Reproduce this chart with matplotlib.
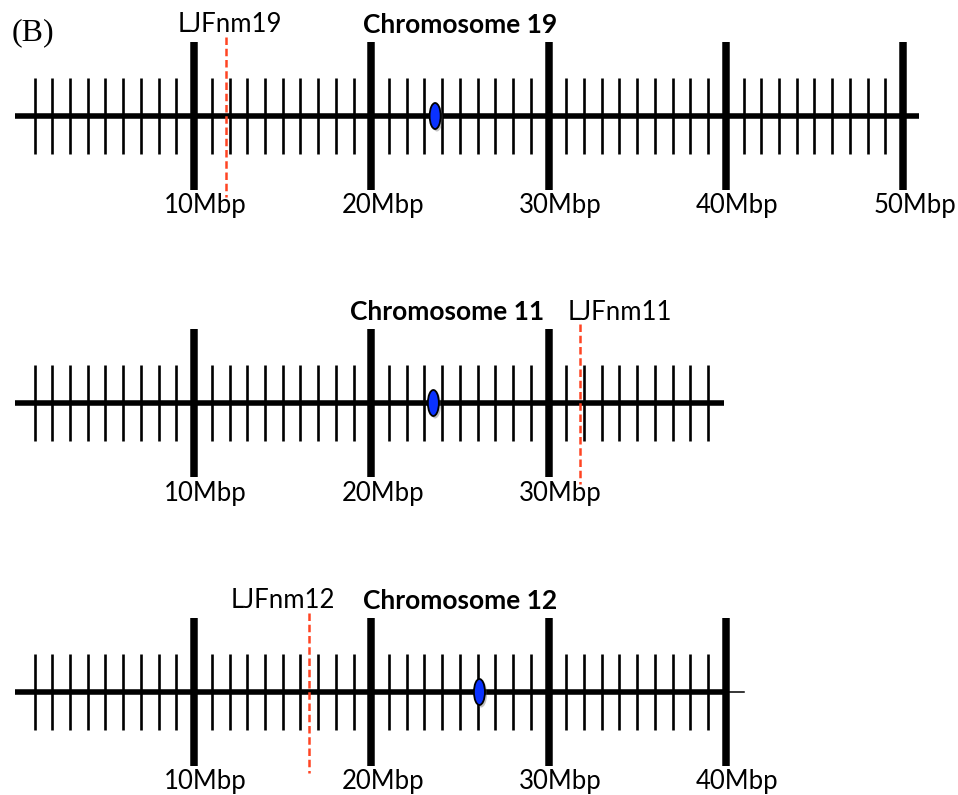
import matplotlib.pyplot as plt
from matplotlib.patches import Ellipse
import numpy as np

# chromosome maps: length, centromere and marker positions in Mbp
chrom_names = ['Chromosome 19', 'Chromosome 11', 'Chromosome 12']
chrom_len = [50.9, 39.9, 40.0]
centromere = [23.6, 23.5, 26.1]
marker_names = ['LJFnm19', 'LJFnm11', 'LJFnm12']
marker_pos = [11.8, 31.8, 16.5]
# chromosome 12 map drawing continues a little past its last tick
tail_end = [None, None, 41.0]

# layout (vertical in pixels, horizontal in Mbp)
row_y = [116, 403, 692]
title_x = [25.0, 24.3, 25.0]
marker_dx = [0.2, 2.2, -1.5]
label_dx = 0.65

font = 'Lato'

fig = plt.figure(figsize=(9.58, 7.95), dpi=100)
ax = fig.add_axes([0, 0, 1, 1])
ax.set_xlim(-0.95, 53.1)
ax.set_ylim(795, 0)
ax.axis('off')

for i, name in enumerate(chrom_names):
    yc = row_y[i]
    length = chrom_len[i]

    # backbone
    ax.plot([-0.1, length], [yc, yc], color='k', lw=4.0, solid_capstyle='butt', zorder=2)
    if tail_end[i] is not None:
        ax.plot([length, tail_end[i]], [yc, yc], color='k', lw=1.1, zorder=2)

    # 1 Mbp ticks and 10 Mbp ticks
    pos = np.arange(1, np.floor(length + 0.01) + 1).astype(int)
    minor = pos[pos % 10 != 0]
    major = pos[pos % 10 == 0]
    ax.vlines(minor, yc - 38, yc + 38, color='k', lw=1.9, zorder=2)
    ax.vlines(major, yc - 74, yc + 74, color='k', lw=5.4, zorder=3)
    for m in major:
        ax.text(m + label_dx, yc + 90, f'{m}Mbp', ha='center', va='center',
                fontsize=18.5, family=font)

    # centromere
    ax.add_patch(Ellipse((centromere[i] + 0.1, yc + 2), 0.66, 27,
                         fc='#555555', ec='none', alpha=0.35, zorder=4))
    ax.add_patch(Ellipse((centromere[i], yc), 0.62, 26,
                         fc='#0a32ff', ec='k', lw=1.3, zorder=5))

    # marker
    ax.plot([marker_pos[i], marker_pos[i]], [yc - 79, yc + 81],
            color='#ff4422', lw=1.8, ls=(0, (3, 1.5)), zorder=6)
    ax.text(marker_pos[i] + marker_dx[i], yc - 91, marker_names[i],
            ha='center', va='center', fontsize=18.5, family=font)

    ax.text(title_x[i], yc - 91, name, ha='center', va='center',
            fontsize=19, family=font, fontweight='bold')

ax.text(-0.3, 33, '(B)', ha='left', va='center', fontsize=23,
        family='Liberation Serif')

fig.savefig('out.png', dpi=100)
